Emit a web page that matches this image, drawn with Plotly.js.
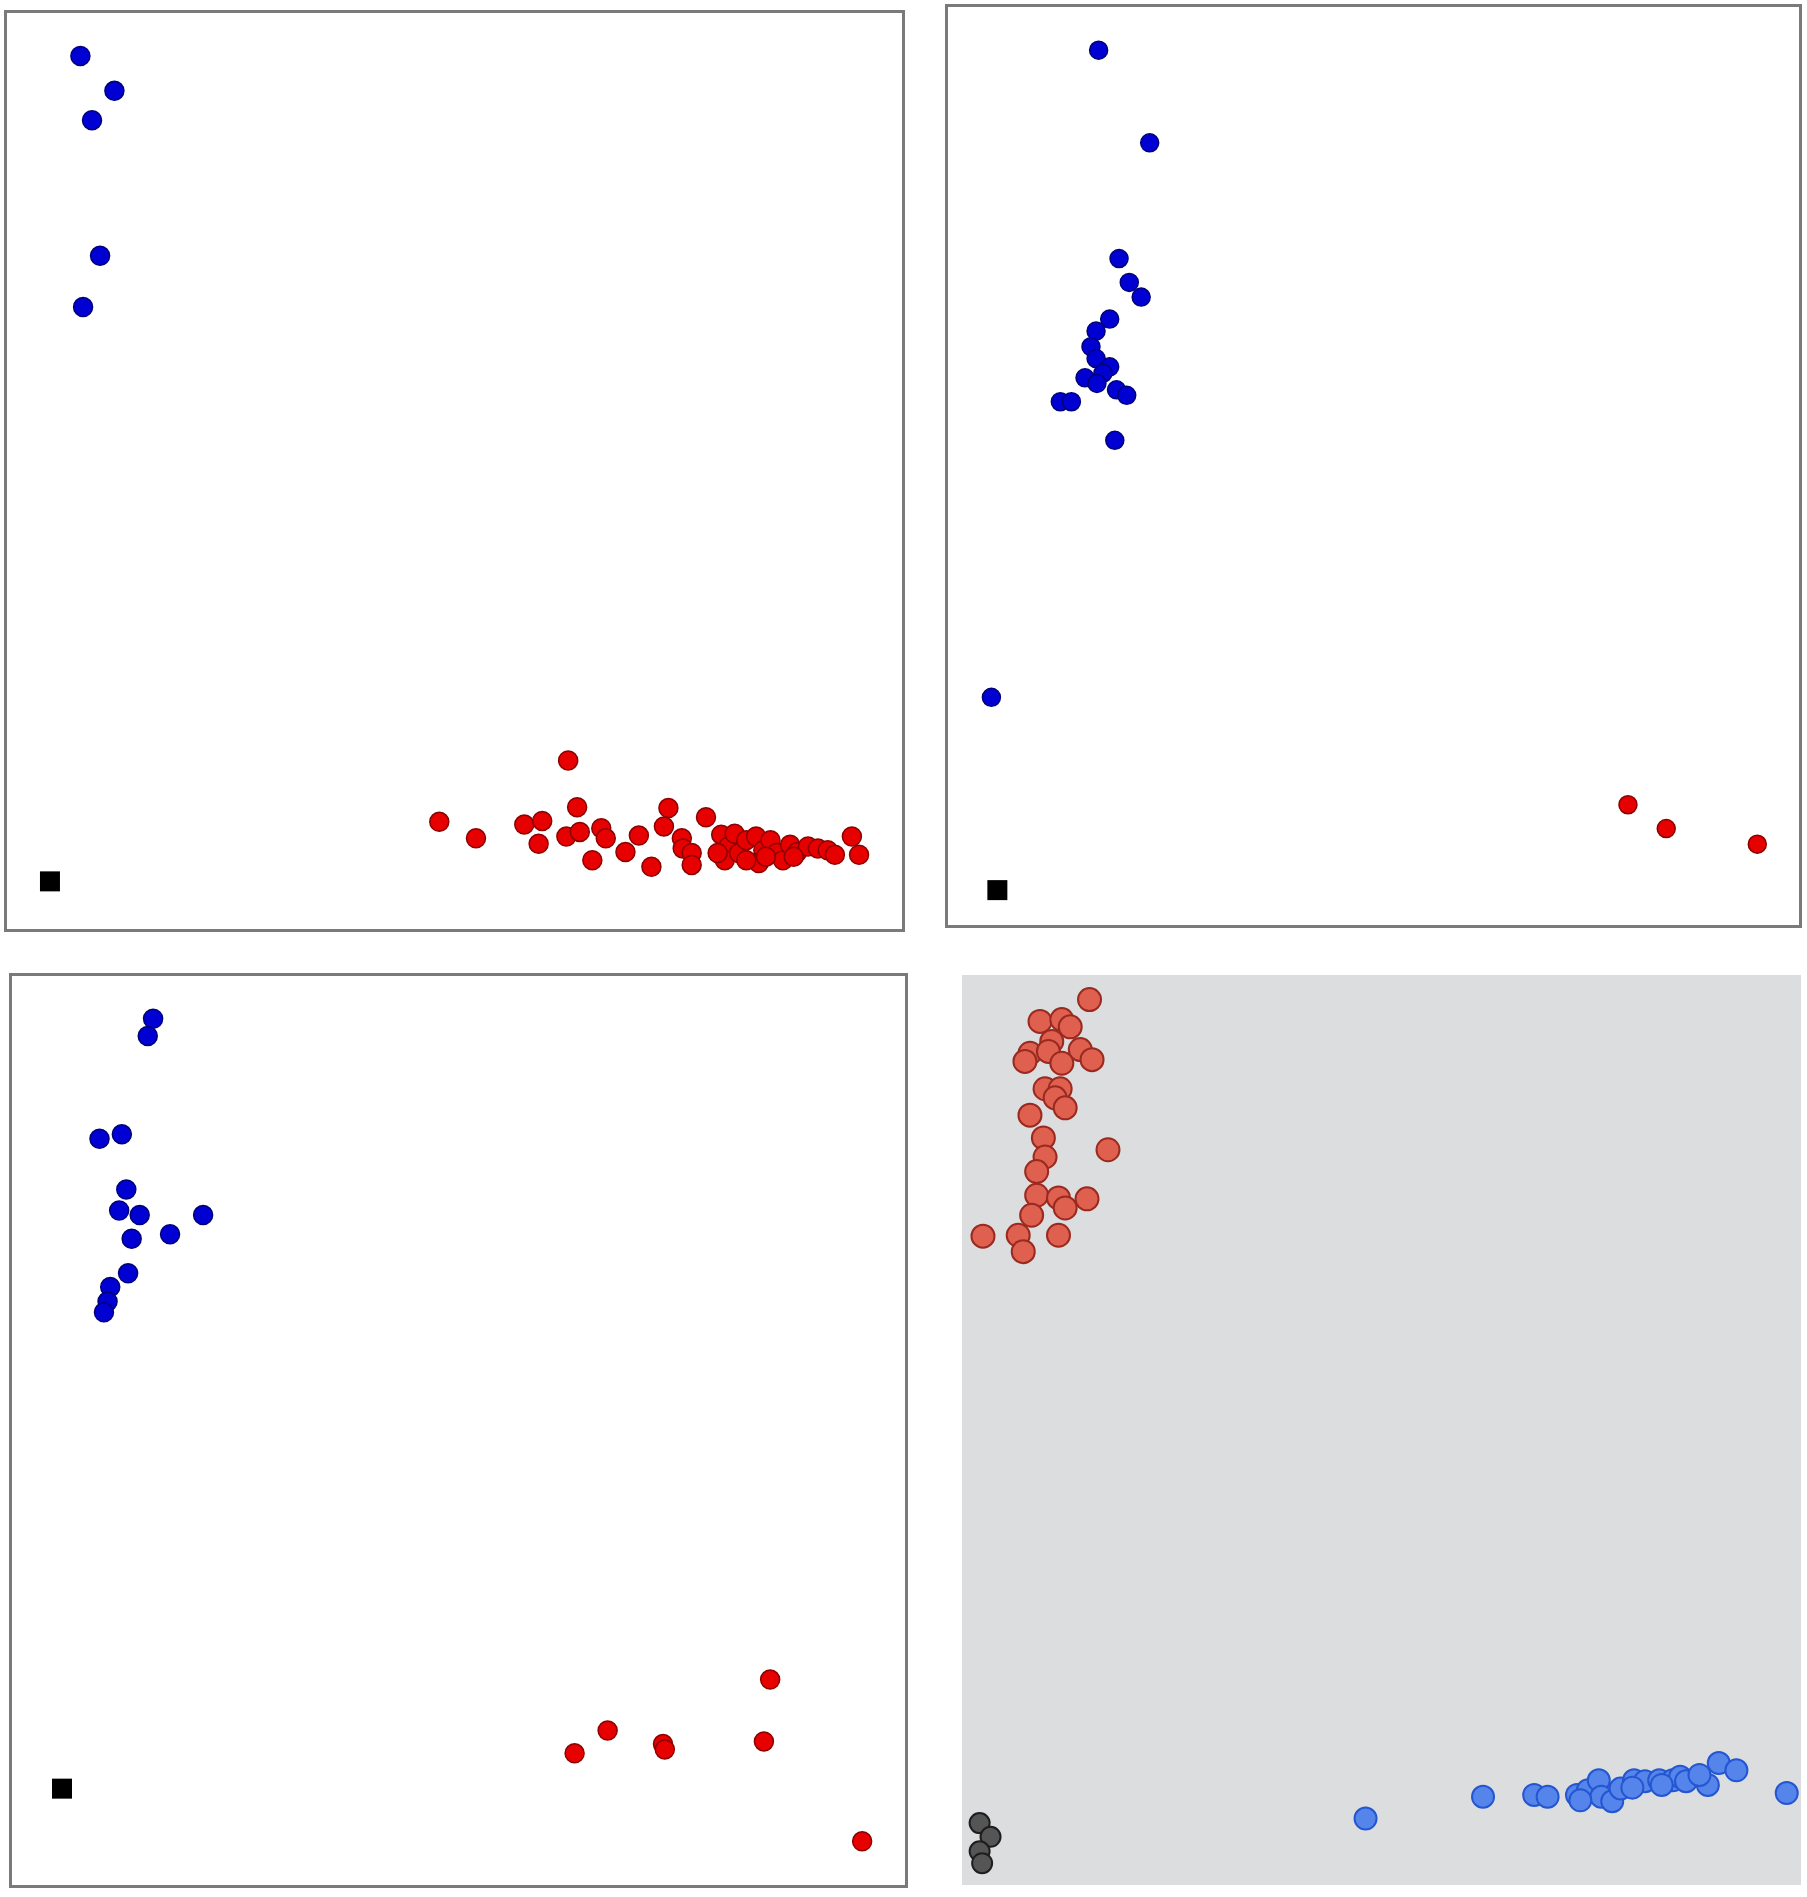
<!DOCTYPE html>
<html>
<head>
<meta charset="utf-8">
<script src="https://cdn.plot.ly/plotly-3.0.1.min.js"></script>
<style>
    html, body { margin: 0; padding: 0; background: #fff; }
    #chart { width: 1807px; height: 1897px; }
</style>
</head>
<body>
<div id="chart"></div>
<script>
// every panel uses a 0-100 scale on both axes

// panel 1 (top left)
const p1BlueX = [8.2, 12.0, 9.5, 10.4, 8.5];
const p1BlueY = [95.3, 91.5, 88.3, 73.5, 67.9];
const p1RedX = [62.7, 48.3, 52.4, 57.8, 59.8, 59.4, 63.7, 62.5, 64.0, 66.4, 66.9, 65.4, 69.1, 70.6, 72.0,
    73.9, 73.4, 75.4, 75.5, 76.5, 76.5, 78.1, 79.8, 80.6, 81.3, 80.2, 81.8, 82.6, 83.7, 84.5, 84.0,
    85.3, 86.0, 86.7, 87.5, 88.3, 89.5, 90.6, 91.7, 92.5, 94.4, 95.2, 79.4, 82.6, 84.8, 87.9];
const p1RedY = [18.4, 11.7, 9.9, 11.4, 11.8, 9.3, 13.3, 10.1, 10.6, 11.0, 9.9, 7.5, 8.4, 10.2, 6.8,
    13.2, 11.2, 9.9, 8.8, 8.3, 7.0, 12.2, 10.3, 9.0, 10.4, 7.5, 8.3, 9.7, 10.1, 8.6, 7.2,
    9.7, 8.3, 7.5, 9.2, 8.4, 9.0, 8.8, 8.6, 8.1, 10.1, 8.1, 8.3, 7.5, 7.9, 7.9];
const p1SquareX = [4.8];
const p1SquareY = [5.2];

// panel 2 (top right)
const p2BlueX = [17.7, 23.7, 20.1, 21.3, 22.7, 19.0, 17.4, 16.8, 17.4, 19.0, 18.2, 16.1, 17.5, 19.8,
    21.0, 13.2, 14.5, 19.6, 5.1];
const p2BlueY = [95.3, 85.2, 72.6, 70.0, 68.4, 66.0, 64.7, 63.0, 61.7, 60.8, 60.1, 59.6, 59.0, 58.3,
    57.7, 57.0, 57.0, 52.8, 24.8];
const p2RedX = [79.9, 84.4, 95.1];
const p2RedY = [13.1, 10.5, 8.8];
const p2SquareX = [5.8];
const p2SquareY = [3.8];

// panel 3 (bottom left)
const p3BlueX = [15.8, 15.2, 9.8, 12.3, 12.8, 12.0, 14.3, 21.4, 17.7, 13.4, 13.0, 11.0, 10.7, 10.3];
const p3BlueY = [95.3, 93.4, 82.1, 82.6, 76.5, 74.2, 73.7, 73.7, 71.6, 71.1, 67.3, 65.8, 64.2, 63.0];
const p3RedX = [63.0, 66.7, 72.9, 73.1, 84.9, 84.2, 95.2];
const p3RedY = [14.5, 17.0, 15.5, 14.9, 22.6, 15.8, 4.8];
const p3SquareX = [5.6];
const p3SquareY = [10.6];

// panel 4 (bottom right)
const p4RedX = [15.2, 9.3, 11.9, 12.9, 10.7, 8.1, 10.3, 7.5, 14.1, 15.5, 11.9, 9.9, 11.7, 11.1, 12.3,
    8.1, 9.7, 9.9, 17.4, 8.9, 8.9, 11.5, 14.9, 12.3, 8.3, 6.7, 2.5, 11.5, 7.3];
const p4RedY = [97.3, 94.9, 95.1, 94.3, 92.7, 91.4, 91.6, 90.5, 91.8, 90.7, 90.3, 87.5, 87.5, 86.5, 85.4,
    84.6, 82.1, 80.0, 80.8, 78.4, 75.8, 75.5, 75.4, 74.4, 73.6, 71.4, 71.3, 71.4, 69.6];
const p4BlueX = [48.1, 62.1, 68.2, 69.8, 73.3, 74.6, 75.9, 76.2, 77.5, 78.5, 80.1, 81.4, 83.1, 84.7,
    85.6, 88.9, 90.2, 92.3, 98.3, 73.7, 79.9, 83.4, 86.3, 87.9];
const p4BlueY = [7.3, 9.7, 9.9, 9.7, 9.9, 10.4, 11.5, 9.7, 9.2, 10.6, 11.5, 11.4, 11.5, 11.5,
    11.9, 11.0, 13.4, 12.6, 10.1, 9.3, 10.7, 11.0, 11.4, 12.1];
const p4GrayX = [2.1, 3.4, 2.1, 2.4];
const p4GrayY = [6.8, 5.3, 3.7, 2.4];

const W = 1807, H = 1897;

// panel boxes in page pixels: [left, right, top, bottom]
const PANELS = [
    [7, 902, 13, 929],
    [948, 1799, 7, 925],
    [12, 905, 976, 1885],
    [962, 1801, 975, 1885],
];

const BLUE = { color: '#0000d2', line: { color: '#00007a', width: 1.5 } };
const RED = { color: '#e60000', line: { color: '#8b0000', width: 1.5 } };
const SQUARE = { color: '#000', symbol: 'square', size: 20 };

function pts(x, y, axis, marker) {
    return {
        x, y, xaxis: 'x' + axis, yaxis: 'y' + axis,
        type: 'scatter', mode: 'markers',
        marker, hoverinfo: 'skip', showlegend: false,
    };
}

const traces = [
    pts(p1BlueX, p1BlueY, '', { ...BLUE, size: 19 }),
    pts(p1RedX, p1RedY, '', { ...RED, size: 19 }),
    pts(p1SquareX, p1SquareY, '', SQUARE),

    pts(p2BlueX, p2BlueY, '2', { ...BLUE, size: 18 }),
    pts(p2RedX, p2RedY, '2', { ...RED, size: 18 }),
    pts(p2SquareX, p2SquareY, '2', SQUARE),

    pts(p3BlueX, p3BlueY, '3', { ...BLUE, size: 19 }),
    pts(p3RedX, p3RedY, '3', { ...RED, size: 19 }),
    pts(p3SquareX, p3SquareY, '3', SQUARE),

    pts(p4RedX, p4RedY, '4', { color: '#e0604f', size: 23, line: { color: '#9a2a20', width: 2 } }),
    pts(p4BlueX, p4BlueY, '4', { color: '#5585ea', size: 22, line: { color: '#2456d2', width: 2 } }),
    pts(p4GrayX, p4GrayY, '4', { color: '#555', size: 20, line: { color: '#1e1e1e', width: 2 } }),
];

const layout = {
    width: W, height: H,
    margin: { t: 0, r: 0, b: 0, l: 0 },
    paper_bgcolor: '#fff',
    plot_bgcolor: '#fff',
    showlegend: false,
    shapes: [{
        type: 'rect', xref: 'x4 domain', yref: 'y4 domain',
        x0: 0, x1: 1, y0: 0, y1: 1,
        fillcolor: '#dcdddf', line: { width: 0 }, layer: 'below',
    }],
};

PANELS.forEach(([l, r, t, b], i) => {
    const suffix = i === 0 ? '' : String(i + 1);
    const framed = i < 3;
    const axisBase = {
        range: [0, 100], showgrid: false, zeroline: false,
        showticklabels: false, ticks: '', fixedrange: true,
        showline: framed, mirror: framed, linecolor: '#7a7a7a', linewidth: 3,
    };
    layout['xaxis' + suffix] = { ...axisBase, domain: [l / W, r / W], anchor: 'y' + suffix };
    layout['yaxis' + suffix] = { ...axisBase, domain: [1 - b / H, 1 - t / H], anchor: 'x' + suffix };
});

Plotly.newPlot('chart', traces, layout, { displayModeBar: false, staticPlot: true });
</script>
</body>
</html>
